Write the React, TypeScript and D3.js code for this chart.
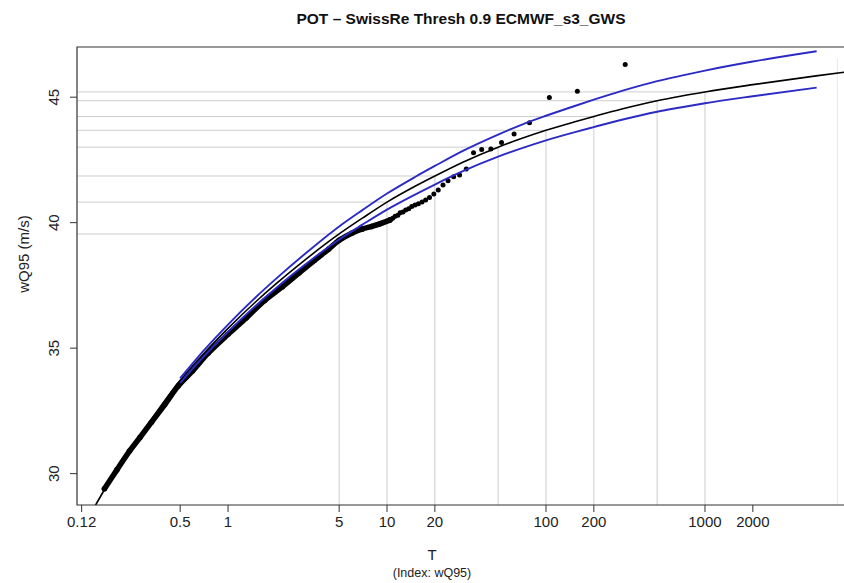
import React, { useRef, useEffect } from "react";
import * as d3 from "d3";

const WIDTH = 844;
const HEIGHT = 583;

const TITLE = "POT – SwissRe Thresh 0.9 ECMWF_s3_GWS";

// axis ticks
const xTicks = [0.12, 0.5, 1, 5, 10, 20, 100, 200, 1000, 2000];
const yTicks = [30, 35, 40, 45];

// fitted return level (black)
const fitT = [0.14, 0.15, 0.2, 0.3, 0.5, 0.7, 1, 1.5, 2, 3, 5, 7, 10, 15, 20, 30, 50, 70, 100, 150, 200, 300, 500, 700, 1000, 2000, 5000, 8000];
const fitLevel = [28.52, 28.85, 30.2, 31.8, 33.72, 34.77, 35.79, 36.86, 37.56, 38.48, 39.55, 40.18, 40.82, 41.45, 41.86, 42.41, 43.01, 43.35, 43.68, 44.01, 44.23, 44.53, 44.86, 45.04, 45.21, 45.5, 45.85, 46.02];

// confidence band (blue)
const ciT = [0.5, 0.7, 1, 1.5, 2, 3, 5, 7, 10, 15, 20, 30, 50, 70, 100, 150, 200, 300, 500, 700, 1000, 2000, 5040];
const upperLevel = [33.8, 34.89, 35.94, 37.04, 37.76, 38.72, 39.85, 40.5, 41.16, 41.82, 42.26, 42.86, 43.51, 43.9, 44.26, 44.64, 44.9, 45.25, 45.64, 45.85, 46.06, 46.42, 46.83];
const lowerLevel = [33.62, 34.65, 35.65, 36.7, 37.39, 38.29, 39.33, 39.92, 40.52, 41.12, 41.52, 42.05, 42.63, 42.96, 43.28, 43.6, 43.81, 44.1, 44.42, 44.59, 44.76, 45.04, 45.38];

// return level guide lines
const gridT = [5, 10, 20, 50, 100, 200, 500, 1000];
const gridLevel = [39.55, 40.82, 41.86, 43.01, 43.68, 44.23, 44.86, 45.21];
const edgeGridT = 6800;

// dense part of the observations (overlapping points)
const bandT = [0.167, 0.2, 0.24, 0.28, 0.33, 0.4, 0.487, 0.6, 0.75, 1.0, 1.3, 1.7, 2.2, 2.8, 3.5, 4.3, 5.0, 6.0, 7.0, 8.0, 9.0, 10.4];
const bandLevel = [29.4, 30.15, 30.9, 31.45, 32.05, 32.75, 33.5, 34.1, 34.8, 35.55, 36.2, 36.9, 37.45, 38.0, 38.5, 38.95, 39.3, 39.58, 39.75, 39.85, 39.95, 40.1];

// single observations, largest first
const obsT = [315, 157.5, 105, 78.75, 63, 52.5, 45, 39.4, 35, 31.5, 28.6, 26.25, 24.2, 22.5, 21, 19.7, 18.5, 17.5, 16.6, 15.75, 15, 14.3, 13.7, 13.1, 12.6, 12.1, 11.7, 11.25, 10.86, 10.5];
const obsLevel = [46.3, 45.24, 44.99, 43.98, 43.53, 43.19, 42.94, 42.92, 42.79, 42.14, 41.9, 41.83, 41.67, 41.5, 41.3, 41.14, 41.0, 40.9, 40.82, 40.75, 40.7, 40.64, 40.55, 40.5, 40.43, 40.4, 40.3, 40.26, 40.18, 40.12];

const FONT = "'Liberation Sans', Arial, Helvetica, sans-serif";

function ReturnLevelPlot() {
  const svgRef = useRef<SVGSVGElement>(null);

  useEffect(() => {
    document.body.style.margin = "0";
    const svg = d3.select(svgRef.current);
    svg.selectAll("*").remove();

    const left = 77, right = 846, top = 47, bottom = 505;

    const x = d3.scaleLog().domain([0.1122, 7710]).range([left, right]);
    const y = d3.scaleLinear().domain([28.75, 47.0]).range([bottom, top]);

    svg.append("rect").attr("width", WIDTH).attr("height", HEIGHT).attr("fill", "#fff");

    svg.append("defs").append("clipPath").attr("id", "plotClip")
      .append("rect")
      .attr("x", left).attr("y", top)
      .attr("width", right - left).attr("height", bottom - top);

    const g = svg.append("g").attr("clip-path", "url(#plotClip)");

    // guide lines to the fitted curve
    gridT.forEach((t, i) => {
      g.append("line")
        .attr("x1", x(t)).attr("x2", x(t))
        .attr("y1", bottom).attr("y2", y(gridLevel[i]))
        .attr("stroke", "#cdcdcd").attr("stroke-width", 1);
      g.append("line")
        .attr("x1", left).attr("x2", x(t))
        .attr("y1", y(gridLevel[i])).attr("y2", y(gridLevel[i]))
        .attr("stroke", "#cdcdcd").attr("stroke-width", 1);
    });
    g.append("line")
      .attr("x1", x(edgeGridT)).attr("x2", x(edgeGridT))
      .attr("y1", bottom).attr("y2", top + 12)
      .attr("stroke", "#e6e6e6").attr("stroke-width", 1);

    // observations
    const bandPts: [number, number][] = bandT.map((t, i) => [t, bandLevel[i]]);
    const bandLine = d3.line<[number, number]>()
      .x((d) => x(d[0]))
      .y((d) => y(d[1]))
      .curve(d3.curveCatmullRom);
    g.append("path")
      .attr("d", bandLine(bandPts))
      .attr("fill", "none")
      .attr("stroke", "#000")
      .attr("stroke-width", 5.5)
      .attr("stroke-linecap", "round")
      .attr("stroke-linejoin", "round");
    g.selectAll(".band-pt")
      .data(bandPts)
      .enter()
      .append("circle")
      .attr("class", "band-pt")
      .attr("cx", (d) => x(d[0]))
      .attr("cy", (d) => y(d[1]))
      .attr("r", 2.8)
      .attr("fill", "#000");

    g.selectAll(".obs")
      .data(obsT)
      .enter()
      .append("circle")
      .attr("class", "obs")
      .attr("cx", (d) => x(d))
      .attr("cy", (d, i) => y(obsLevel[i]))
      .attr("r", 2.5)
      .attr("fill", "#000");

    const curve = (ts: number[], vals: number[]) =>
      d3.line<number>()
        .x((d) => x(d))
        .y((d, i) => y(vals[i]))
        .curve(d3.curveMonotoneX)(ts);

    g.append("path")
      .attr("d", curve(fitT, fitLevel))
      .attr("fill", "none")
      .attr("stroke", "#000")
      .attr("stroke-width", 1.6);

    [upperLevel, lowerLevel].forEach((vals) => {
      g.append("path")
        .attr("d", curve(ciT, vals))
        .attr("fill", "none")
        .attr("stroke", "#2b2bc4")
        .attr("stroke-width", 1.9);
    });

    // box
    svg.append("path")
      .attr("d", `M${WIDTH},${top}H${left}V${bottom}H${WIDTH}`)
      .attr("fill", "none")
      .attr("stroke", "#333")
      .attr("stroke-width", 1.2);

    // x axis
    const xa = svg.append("g").attr("font-family", FONT).attr("font-size", 15).attr("fill", "#222");
    xTicks.forEach((t) => {
      xa.append("line")
        .attr("x1", x(t)).attr("x2", x(t))
        .attr("y1", bottom).attr("y2", bottom + 7)
        .attr("stroke", "#333");
      xa.append("text")
        .attr("x", x(t)).attr("y", bottom + 18)
        .attr("text-anchor", "middle")
        .attr("dominant-baseline", "middle")
        .text(String(t));
    });

    // y axis
    const ya = svg.append("g").attr("font-family", FONT).attr("font-size", 15).attr("fill", "#222");
    yTicks.forEach((v) => {
      ya.append("line")
        .attr("x1", left - 7).attr("x2", left)
        .attr("y1", y(v)).attr("y2", y(v))
        .attr("stroke", "#333");
      ya.append("text")
        .attr("transform", `translate(${left - 22},${y(v)}) rotate(-90)`)
        .attr("text-anchor", "middle")
        .attr("dominant-baseline", "middle")
        .text(String(v));
    });

    // labels
    svg.append("text")
      .attr("x", 461).attr("y", 20)
      .attr("text-anchor", "middle")
      .attr("dominant-baseline", "middle")
      .attr("font-family", FONT)
      .attr("font-weight", "bold")
      .attr("font-size", 15.5)
      .attr("fill", "#111")
      .text(TITLE);

    svg.append("text")
      .attr("x", 432).attr("y", 556)
      .attr("text-anchor", "middle")
      .attr("dominant-baseline", "middle")
      .attr("font-family", FONT)
      .attr("font-size", 15)
      .attr("fill", "#222")
      .text("T");

    svg.append("text")
      .attr("x", 432).attr("y", 574)
      .attr("text-anchor", "middle")
      .attr("dominant-baseline", "middle")
      .attr("font-family", FONT)
      .attr("font-size", 12.5)
      .attr("fill", "#222")
      .text("(Index: wQ95)");

    svg.append("text")
      .attr("transform", `translate(25,254) rotate(-90)`)
      .attr("text-anchor", "middle")
      .attr("dominant-baseline", "middle")
      .attr("font-family", FONT)
      .attr("font-size", 15)
      .attr("fill", "#222")
      .text("wQ95 (m/s)");
  }, []);

  return <svg ref={svgRef} width={WIDTH} height={HEIGHT} style={{ display: "block" }}></svg>;
}

export default function App() {
  return <ReturnLevelPlot />;
}
